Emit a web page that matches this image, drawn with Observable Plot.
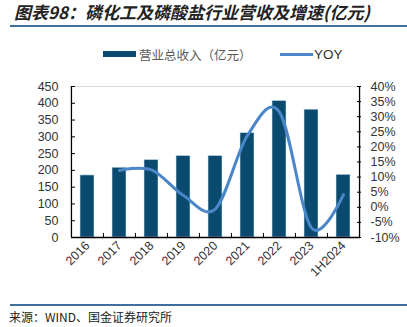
<!DOCTYPE html>
<html><head><meta charset="utf-8">
<script src="https://cdn.jsdelivr.net/npm/d3@7"></script>
<script src="https://cdn.jsdelivr.net/npm/@observablehq/plot@0.6"></script>
<style>
body{margin:0;width:407px;height:327px;background:#fff;overflow:hidden;position:relative;font-family:"Noto Sans CJK SC",sans-serif}
.abs{position:absolute;white-space:nowrap}
#title{left:14px;top:1px;font-size:17px;font-weight:bold;font-style:italic;color:#222;line-height:21px}
#rule1{left:10px;right:0;top:25px;height:2px;background:#3e6f98}
#sw1{left:103px;top:51px;width:33px;height:6px;background:#0b4a6f}
#lg1{left:139px;top:46px;font-size:12.5px;color:#595959;line-height:18px}
#sw2{left:280px;top:53px;width:33px;height:3px;background:#4a86c8}
#lg2{left:314px;top:46px;font-size:13.5px;color:#333;line-height:18px;font-family:"Liberation Sans",Arial,sans-serif}
#chart{left:0;top:76px}
#rule2{left:10px;right:0;top:304px;height:2px;background:#3e6f98}
#source{left:9px;top:309px;font-size:12px;color:#222;line-height:16px}
</style></head>
<body>
<div class="abs" id="title">图表98：磷化工及磷酸盐行业营收及增速(亿元)</div>
<div class="abs" id="rule1"></div>
<div class="abs" id="sw1"></div>
<div class="abs" id="lg1">营业总收入（亿元）</div>
<div class="abs" id="sw2"></div>
<div class="abs" id="lg2">YOY</div>
<div class="abs" id="chart"></div>
<div class="abs" id="rule2"></div>
<div class="abs" id="source">来源：WIND、国金证券研究所</div>
<script>
const years = ["2016","2017","2018","2019","2020","2021","2022","2023","1H2024"];
const revenue = [185, 208, 231, 243, 243, 311, 407, 381, 187];
const yoy = [null, 12.2, 12.4, 3.9, -0.5, 23.8, 31.5, -6.8, 4.2];
const leftTicks = [0,50,100,150,200,250,300,350,400,450];
const rightTicks = [-10,-5,0,5,10,15,20,25,30,35,40];

const toLeft = v => (v + 10) * 9;
const data = years.map((y,i)=>({year:y, revenue:revenue[i], yoy:yoy[i]}));
const lineData = data.filter(d=>d.yoy!=null);

const W=407,H=220,mL=71,mR=47,mT=10,mB=59;
const step=(W-mL-mR)/years.length;

const chart = Plot.plot({
  width:W, height:H, marginTop:mT, marginBottom:mB, marginLeft:mL, marginRight:mR,
  style:{fontFamily:"'Liberation Sans', Arial, sans-serif", fontSize:"12.5px", color:"#333", background:"transparent", overflow:"visible"},
  x:{domain:years, paddingInner:0.55, paddingOuter:0.275},
  y:{domain:[0,450]},
  marks:[
    Plot.ruleY([450], {stroke:"#d9d9d9", strokeWidth:1}),
    Plot.barY(data,{x:"year", y:"revenue", fill:"#0b4a6f", stroke:"#d5e2ec", strokeWidth:0.6}),
    Plot.line(lineData, {x:"year", y:d=>toLeft(d.yoy), stroke:"#4a86c8", strokeWidth:3, curve:"cardinal", tension:0}),
    Plot.axisY({ticks:leftTicks, tickSize:0, tickPadding:13, label:null}),
    Plot.axisY({ticks:leftTicks, tickSize:-4, tickFormat:()=>"", label:null, stroke:"#000"}),
    Plot.axisY({anchor:"right", ticks:rightTicks.map(toLeft), tickFormat:d=>`${Math.round(d/9-10)}%`, tickSize:0, tickPadding:10, label:null}),
    Plot.axisY({anchor:"right", ticks:rightTicks.map(toLeft), tickSize:-4, tickFormat:()=>"", label:null, stroke:"#000"}),
    Plot.axisX({tickRotate:-45, tickSize:0, tickPadding:6, label:null}),
    Plot.ruleX(years.slice(1), {x:d=>d, y1:0, y2:12, dx:-step/2, stroke:"#000"}),
    Plot.ruleY([0], {stroke:"#000", strokeWidth:1.3}),
    Plot.ruleX([years[0]], {x:d=>d, y1:0, y2:450, dx:-step/2, stroke:"#000", strokeWidth:1.3}),
    Plot.ruleX([years[years.length-1]], {x:d=>d, y1:0, y2:450, dx:step/2, stroke:"#000", strokeWidth:1.3})
  ]
});
document.getElementById("chart").appendChild(chart);
</script>
</body></html>
